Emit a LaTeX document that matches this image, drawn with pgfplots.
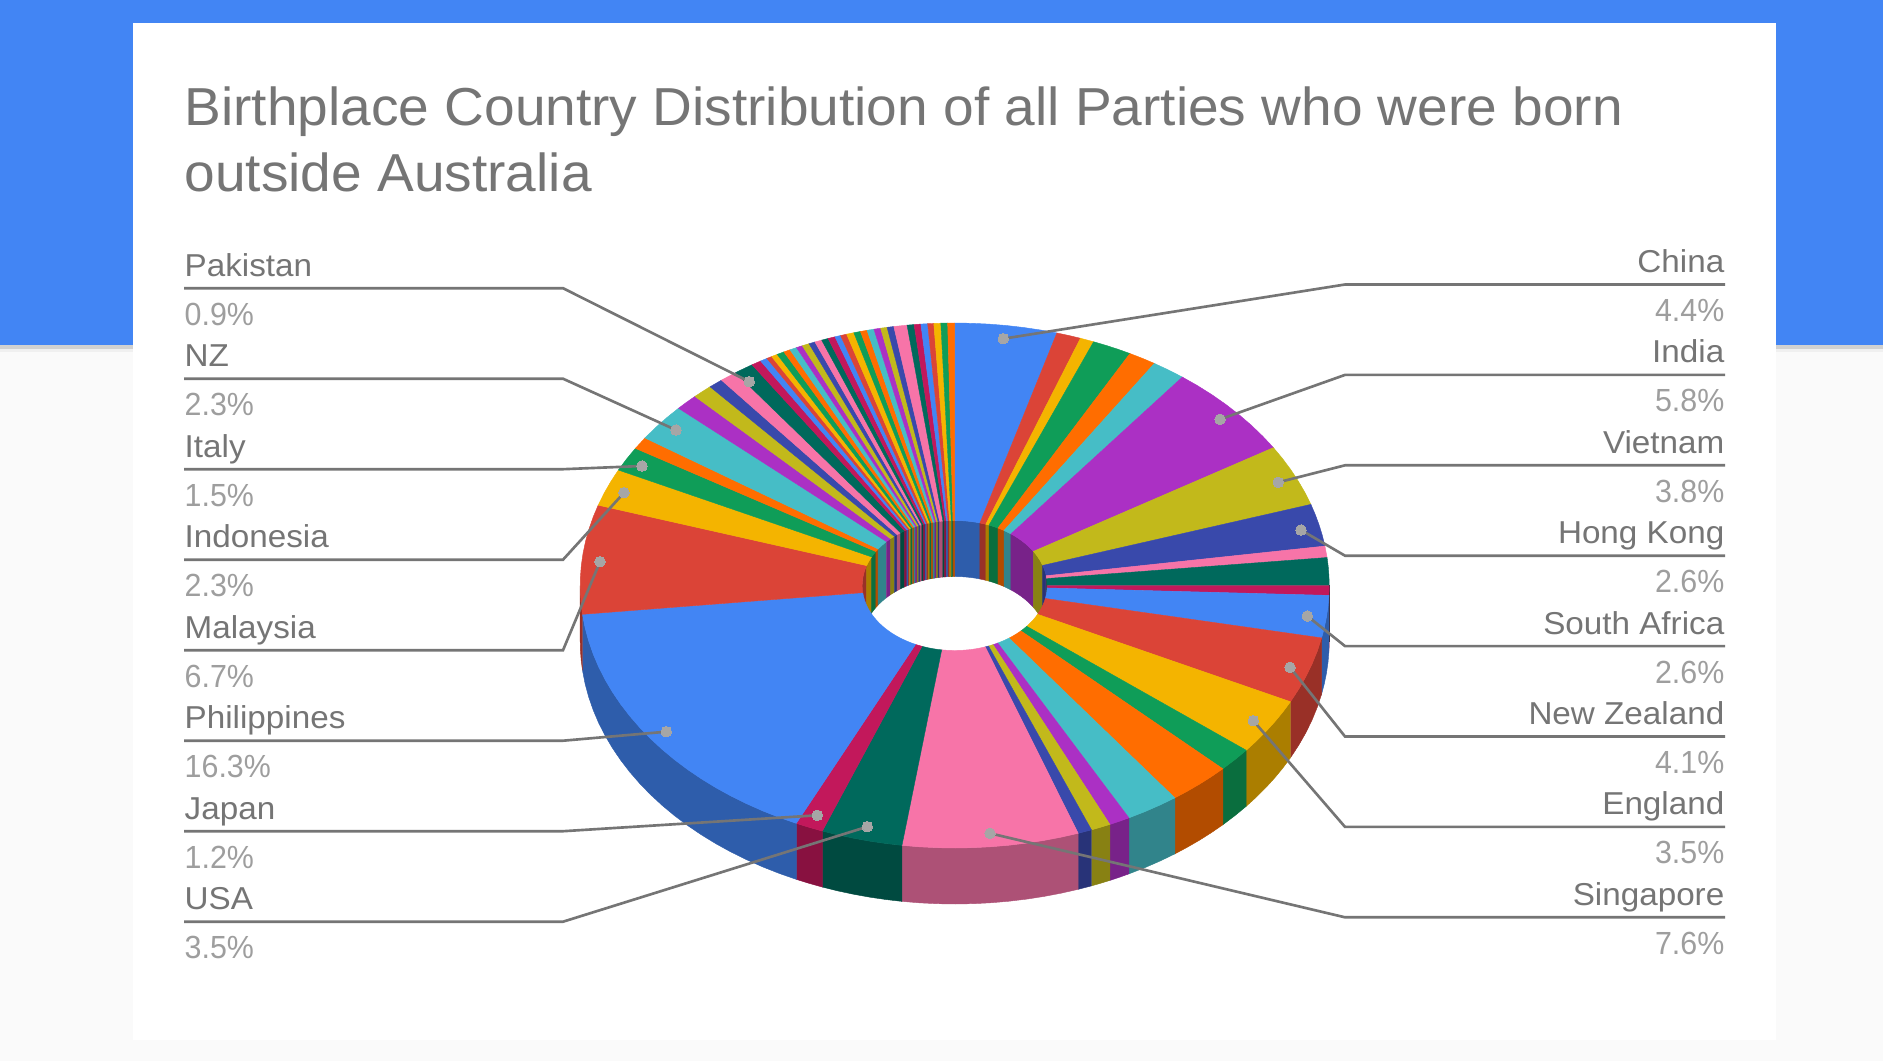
\documentclass[border=0pt]{standalone}
\usepackage{pgfplots}
\pgfplotsset{compat=1.18}
\usepackage{fontspec}
\setmainfont{Liberation Sans}
\newfontfamily\titlef[FakeStretch=1.03]{Liberation Sans}
\newfontfamily\labf[FakeStretch=1.05]{Liberation Sans}
\newfontfamily\pctf[FakeStretch=0.95]{Liberation Sans}
\definecolor{cB}{HTML}{4285F4}
\definecolor{cR}{HTML}{DB4437}
\definecolor{cY}{HTML}{F4B400}
\definecolor{cG}{HTML}{0F9D58}
\definecolor{cO}{HTML}{FF6D00}
\definecolor{cT}{HTML}{46BDC6}
\definecolor{cP}{HTML}{AB30C4}
\definecolor{cL}{HTML}{C2B91B}
\definecolor{cI}{HTML}{3949AB}
\definecolor{cK}{HTML}{F774A8}
\definecolor{cD}{HTML}{00695C}
\definecolor{cC}{HTML}{C2185B}
\definecolor{lineC}{HTML}{757575}
\definecolor{pctC}{HTML}{9E9E9E}
\definecolor{dotC}{HTML}{A6A6A6}
\definecolor{bgC}{HTML}{FAFAFA}
% slice boundaries, in percent, clockwise from 12 o'clock
\newcommand\allslices{%
\SL{0}{4.4}{cB}\SL{4.4}{5.45}{cR}\SL{5.45}{6.05}{cY}\SL{6.05}{7.75}{cG}\SL{7.75}{8.95}{cO}\SL{8.95}{10.4}{cT}%
\SL{10.4}{16.2}{cP}\SL{16.2}{20.0}{cL}\SL{20.0}{22.6}{cI}\SL{22.6}{23.3}{cK}\SL{23.3}{25.0}{cD}\SL{25.0}{25.6}{cC}%
\SL{25.6}{28.2}{cB}\SL{28.2}{32.3}{cR}\SL{32.3}{35.8}{cY}\SL{35.8}{37.3}{cG}\SL{37.3}{40.0}{cO}\SL{40.0}{42.3}{cT}%
\SL{42.3}{43.2}{cP}\SL{43.2}{44.05}{cL}\SL{44.05}{44.65}{cI}\SL{44.65}{52.25}{cK}\SL{52.25}{55.75}{cD}\SL{55.75}{56.95}{cC}%
\SL{56.95}{73.25}{cB}\SL{73.25}{79.95}{cR}\SL{79.95}{82.25}{cY}\SL{82.25}{83.75}{cG}\SL{83.75}{84.5}{cO}\SL{84.5}{86.8}{cT}%
\SL{86.8}{87.8}{cP}\SL{87.8}{88.67}{cL}\SL{88.67}{89.3}{cI}\SL{89.3}{90.05}{cK}\SL{90.05}{90.9}{cD}\SL{90.9}{91.33}{cC}%
\SL{91.33}{91.64}{cB}\SL{91.64}{91.87}{cR}\SL{91.87}{92.14}{cY}\SL{92.14}{92.46}{cG}\SL{92.46}{92.75}{cO}\SL{92.75}{93.06}{cT}%
\SL{93.06}{93.33}{cP}\SL{93.33}{93.64}{cL}\SL{93.64}{93.91}{cI}\SL{93.91}{94.22}{cK}\SL{94.22}{94.51}{cD}\SL{94.51}{94.82}{cC}%
\SL{94.82}{95.07}{cB}\SL{95.07}{95.34}{cR}\SL{95.34}{95.66}{cY}\SL{95.66}{95.95}{cG}\SL{95.95}{96.24}{cO}\SL{96.24}{96.54}{cT}%
\SL{96.54}{96.83}{cP}\SL{96.83}{97.11}{cL}\SL{97.11}{97.40}{cI}\SL{97.40}{97.97}{cK}\SL{97.97}{98.27}{cD}\SL{98.27}{98.56}{cC}%
\SL{98.56}{98.85}{cB}\SL{98.85}{99.11}{cR}\SL{99.11}{99.41}{cY}\SL{99.41}{99.70}{cG}\SL{99.70}{100}{cO}%
}
\def\cx{954.7}\def\cy{585.5}\def\rxo{374.5}\def\ryo{262.5}\def\rxi{92.5}\def\ryi{65}\def\dep{56}
% append an arc (a0, a1, rx, ry, dy) to \pts
\newcommand\addarc[5]{%
 \pgfmathtruncatemacro\nst{max(1,ceil(abs(#2-#1)/3))}%
 \pgfmathsetmacro\stp{(#2-#1)/\nst}%
 \foreach \ii in {0,...,\nst}{%
  \pgfmathsetmacro\aa{#1+\ii*\stp}%
  \pgfmathsetmacro\xx{\cx+#3*sin(\aa)}%
  \pgfmathsetmacro\yy{\cy-#4*cos(\aa)+#5}%
  \xdef\pts{\pts (\xx,\yy)}%
 }%
}
\newcommand\emitpoly[2]{%
 \edef\tmp{\noexpand\addplot[fill=#1,draw=#1,line width=0.12pt] coordinates {\pts} -- cycle;}\tmp
}
\newcommand\topslice[3]{%
 \pgfmathsetmacro\aA{#1*3.6}\pgfmathsetmacro\aB{#2*3.6}%
 \gdef\pts{}\addarc{\aA}{\aB}{\rxo}{\ryo}{0}\addarc{\aB}{\aA}{\rxi}{\ryi}{0}%
 \emitpoly{#3}{}%
}
\newcommand\outerwall[3]{%
 \pgfmathsetmacro\aA{max(#1*3.6,90)}\pgfmathsetmacro\aB{min(#2*3.6,270)}%
 \ifdim\aA pt<\aB pt\relax
  \gdef\pts{}\addarc{\aA}{\aB}{\rxo}{\ryo}{0}\addarc{\aB}{\aA}{\rxo}{\ryo}{\dep}%
  \emitpoly{#3!70!black}{}%
 \fi
}
\newcommand\innerwallpart[3]{% degrees
 \ifdim#1 pt<#2 pt\relax
  \gdef\pts{}\addarc{#1}{#2}{\rxi}{\ryi}{0}\addarc{#2}{#1}{\rxi}{\ryi}{\dep}%
  \emitpoly{#3!70!black}{}%
 \fi
}
\newcommand\innerwall[3]{%
 \pgfmathsetmacro\aA{#1*3.6}\pgfmathsetmacro\aB{min(#2*3.6,90)}%
 \innerwallpart{\aA}{\aB}{#3}%
 \pgfmathsetmacro\aA{max(#1*3.6,270)}\pgfmathsetmacro\aB{#2*3.6}%
 \innerwallpart{\aA}{\aB}{#3}%
}
\begin{document}
\begin{tikzpicture}
\begin{axis}[
  x=0.01cm,y=-0.01cm,
  xmin=0,xmax=1883,ymin=0,ymax=1061,
  axis lines=none,
  clip=true,
  every axis plot/.append style={forget plot},
]
% page
\addplot[fill=bgC,draw=none] coordinates {(0,0)(1883,0)(1883,1061)(0,1061)} -- cycle;
\addplot[fill=black!6,draw=none] coordinates {(0,345)(1883,345)(1883,352)(0,352)} -- cycle;
\addplot[fill=black!18,draw=none] coordinates {(0,345)(1883,345)(1883,349)(0,349)} -- cycle;
\addplot[fill=cB,draw=none] coordinates {(0,0)(1883,0)(1883,345)(0,345)} -- cycle;
\addplot[fill=white,draw=none] coordinates {(133,23)(1776,23)(1776,1040)(133,1040)} -- cycle;
% pie
\let\SL\innerwall \allslices
\let\SL\outerwall \allslices
\let\SL\topslice \allslices
% leaders, left
\addplot[lineC,line width=.75pt] coordinates {(184,288.2)(563,288.2)(749.3,381.7)};
\addplot[lineC,line width=.75pt] coordinates {(184,378.7)(563,378.7)(676,430)};
\addplot[lineC,line width=.75pt] coordinates {(184,469.2)(563,469.2)(642,466)};
\addplot[lineC,line width=.75pt] coordinates {(184,559.7)(563,559.7)(624,492.7)};
\addplot[lineC,line width=.75pt] coordinates {(184,650.2)(563,650.2)(600,561.7)};
\addplot[lineC,line width=.75pt] coordinates {(184,740.7)(563,740.7)(666.3,731.7)};
\addplot[lineC,line width=.75pt] coordinates {(184,831.2)(563,831.2)(817.3,815.3)};
\addplot[lineC,line width=.75pt] coordinates {(184,921.7)(563,921.7)(867.3,826.7)};
% leaders, right
\addplot[lineC,line width=.75pt] coordinates {(1725,284.5)(1345,284.5)(1003.3,338.7)};
\addplot[lineC,line width=.75pt] coordinates {(1725,374.9)(1345,374.9)(1220,419.3)};
\addplot[lineC,line width=.75pt] coordinates {(1725,465.3)(1345,465.3)(1278.3,482.3)};
\addplot[lineC,line width=.75pt] coordinates {(1725,555.7)(1345,555.7)(1301,530)};
\addplot[lineC,line width=.75pt] coordinates {(1725,646.1)(1345,646.1)(1307.3,616)};
\addplot[lineC,line width=.75pt] coordinates {(1725,736.5)(1345,736.5)(1290,667.3)};
\addplot[lineC,line width=.75pt] coordinates {(1725,826.9)(1345,826.9)(1253.3,720.7)};
\addplot[lineC,line width=.75pt] coordinates {(1725,917.3)(1345,917.3)(990,833.3)};
% dots
\addplot[dotC,only marks,mark=*,mark size=1.5pt,mark options={fill=dotC,draw=dotC,line width=0pt}] coordinates {
(749.3,381.7)(676,430)(642,466)(624,492.7)(600,561.7)(666.3,731.7)(817.3,815.3)(867.3,826.7)
(1003.3,338.7)(1220,419.3)(1278.3,482.3)(1301,530)(1307.3,616)(1290,667.3)(1253.3,720.7)(990,833.3)};
% title
\node[anchor=base west,inner sep=0pt,text=lineC,font=\titlef\fontsize{15.2}{17}\selectfont] at (axis cs:184,125) {Birthplace Country Distribution of all Parties who were born};
\node[anchor=base west,inner sep=0pt,text=lineC,font=\titlef\fontsize{15.2}{17}\selectfont] at (axis cs:184,191.5) {outside Australia};
% left labels
\def\LL#1#2#3{\node[anchor=base west,inner sep=0pt,text=lineC,font=\labf\fontsize{9}{11}\selectfont] at (axis cs:184,#1-12) {#2};
 \node[anchor=base west,inner sep=0pt,text=pctC,font=\pctf\fontsize{9.1}{11}\selectfont] at (axis cs:184,#1+37) {#3};}
\LL{288.2}{Pakistan}{0.9\%}
\LL{378.7}{NZ}{2.3\%}
\LL{469.2}{Italy}{1.5\%}
\LL{559.7}{Indonesia}{2.3\%}
\LL{650.2}{Malaysia}{6.7\%}
\LL{740.7}{Philippines}{16.3\%}
\LL{831.2}{Japan}{1.2\%}
\LL{921.7}{USA}{3.5\%}
\def\RR#1#2#3{\node[anchor=base east,inner sep=0pt,text=lineC,font=\labf\fontsize{9}{11}\selectfont] at (axis cs:1725,#1-12) {#2};
 \node[anchor=base east,inner sep=0pt,text=pctC,font=\pctf\fontsize{9.1}{11}\selectfont] at (axis cs:1725,#1+37) {#3};}
\RR{284.5}{China}{4.4\%}
\RR{374.9}{India}{5.8\%}
\RR{465.3}{Vietnam}{3.8\%}
\RR{555.7}{Hong Kong}{2.6\%}
\RR{646.1}{South Africa}{2.6\%}
\RR{736.5}{New Zealand}{4.1\%}
\RR{826.9}{England}{3.5\%}
\RR{917.3}{Singapore}{7.6\%}
\end{axis}
\end{tikzpicture}
\end{document}
